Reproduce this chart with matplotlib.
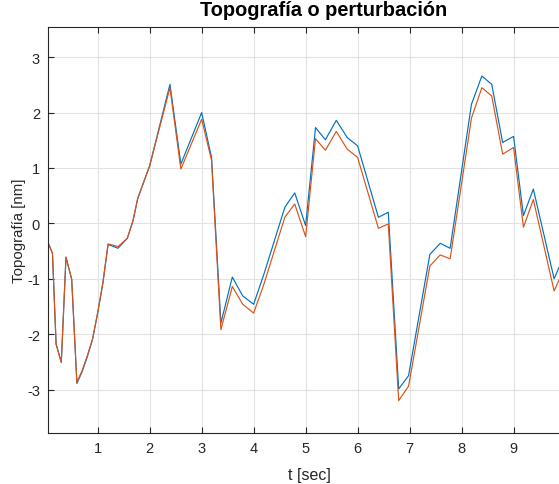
import matplotlib
matplotlib.use('Agg')
import matplotlib.pyplot as plt

# muestras
t = [0.05, 0.13, 0.20, 0.30, 0.39, 0.50, 0.60, 0.70, 0.80, 0.90, 1.00, 1.10, 1.20,
     1.39, 1.57, 1.68, 1.77, 2.00, 2.39, 2.60, 3.00, 3.19, 3.37, 3.59, 3.79, 4.00,
     4.19, 4.60, 4.79, 5.00, 5.19, 5.38, 5.59, 5.80, 6.00, 6.40, 6.59, 6.79, 6.98,
     7.39, 7.59, 7.78, 8.19, 8.39, 8.58, 8.79, 9.00, 9.19, 9.38, 9.78, 9.90]
topo_azul = [-0.36, -0.54, -2.18, -2.51, -0.61, -1.01, -2.89, -2.68, -2.41, -2.10, -1.62,
             -1.08, -0.38, -0.45, -0.27, 0.05, 0.45, 1.04, 2.51, 1.07, 2.00, 1.19, -1.80,
             -0.97, -1.31, -1.46, -0.94, 0.29, 0.55, -0.04, 1.73, 1.51, 1.86, 1.55, 1.40,
             0.11, 0.20, -2.99, -2.75, -0.56, -0.36, -0.45, 2.15, 2.66, 2.51, 1.46, 1.57,
             0.14, 0.62, -1.00, -0.74]
topo_naranja = [-0.36, -0.54, -2.18, -2.51, -0.61, -1.01, -2.87, -2.66, -2.39, -2.09, -1.61,
                -1.07, -0.37, -0.42, -0.27, 0.05, 0.45, 1.04, 2.45, 0.98, 1.88, 1.14, -1.92,
                -1.14, -1.46, -1.62, -1.12, 0.11, 0.35, -0.24, 1.53, 1.32, 1.66, 1.34, 1.19,
                -0.09, -0.01, -3.20, -2.94, -0.77, -0.57, -0.64, 1.90, 2.45, 2.30, 1.25, 1.37,
                -0.07, 0.43, -1.22, -0.97]
xticks = [1, 2, 3, 4, 5, 6, 7, 8, 9]
yticks = [-3, -2, -1, 0, 1, 2, 3]

plt.rcParams['font.family'] = ['Liberation Sans', 'DejaVu Sans']
plt.rcParams['axes.unicode_minus'] = False
gris = '#262626'

fig = plt.figure(figsize=(5.59, 4.85), dpi=100)
# el eje sigue mas alla del borde derecho (imagen recortada)
ax = fig.add_axes([48.3 / 559, 51 / 485, 550 / 559, 405.7 / 485])

ax.plot(t, topo_azul, color='#0072BD', lw=0.85)
ax.plot(t, topo_naranja, color='#D95319', lw=0.85)

ax.set_xlim(0.05, 10.63)
ax.set_ylim(-3.785, 3.54)
ax.set_xticks(xticks)
ax.set_yticks(yticks)
ax.grid(True, color='#e2e2e2', lw=0.8)
ax.set_axisbelow(True)
ax.tick_params(direction='in', top=True, right=True, length=4, width=0.8,
               colors=gris, labelsize=10.5, pad=6)
for s in ax.spines.values():
    s.set_color(gris)
    s.set_linewidth(0.8)

ax.set_title('Topografía o perturbación', fontsize=14.4, fontweight='bold', color='black', pad=9)
ax.set_xlabel('t [sec]', fontsize=11.5, color=gris)
ax.xaxis.set_label_coords(0.474, -0.085)
ax.set_ylabel('Topografía [nm]', fontsize=10.8, color=gris, labelpad=1)

fig.savefig('out.png', dpi=100)
